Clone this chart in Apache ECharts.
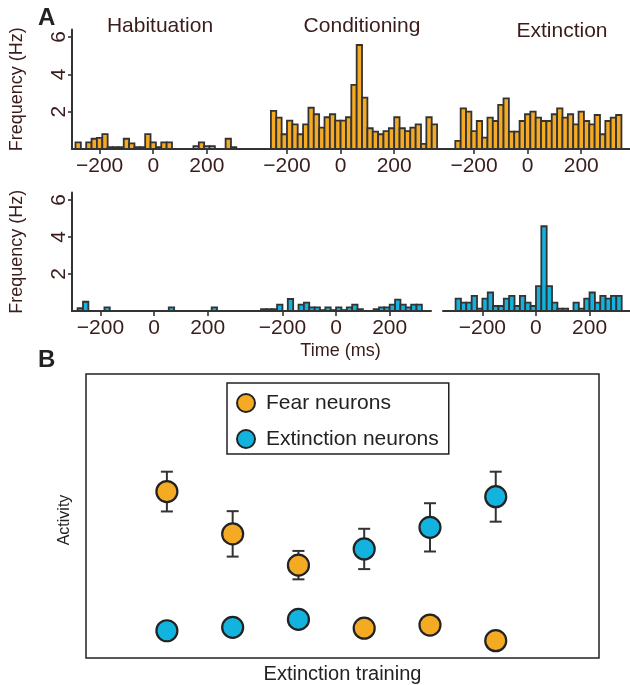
<!DOCTYPE html>
<html>
<head>
<meta charset="utf-8">
<script src="https://cdn.jsdelivr.net/npm/echarts@6/dist/echarts.min.js"></script>
<style>html,body{margin:0;padding:0;background:#fff}#c{width:630px;height:685px}</style>
</head>
<body>
<div id="c"></div>
<script>
// ---------- DATA ----------
const binMs = 20;
const timeTicks = [-200, 0, 200];
const freqTicks = [2, 4, 6];
const panelTitles = ['Habituation', 'Conditioning', 'Extinction'];

// Fear neuron PSTH (top row), Hz per 20 ms bin; bin start times (ms)
const habFearStart = -290;
const habFear = [0.35, 0, 0.35, 0.55, 0.6, 0.8, 0.1, 0.1, 0.1, 0.55, 0.3, 0.1, 0.1, 0.8, 0.35, 0.1, 0.35, 0.35, 0, 0, 0, 0, 0.15, 0.35, 0.15, 0.15, 0, 0, 0.55, 0.1, 0];
const condFearStart = -260;
const condFear = [2.04, 1.68, 0.79, 1.52, 1.32, 0.79, 1.32, 2.21, 1.86, 1.14, 1.70, 1.86, 1.52, 1.52, 1.70, 3.43, 5.57, 2.75, 1.11, 0.93, 0.79, 0.96, 1.11, 1.70, 1.11, 0.96, 1.14, 1.32, 0.27, 1.70, 1.32];
const extFearStart = -270;
const extFear = [0.43, 2.18, 2.0, 0.96, 1.5, 0.61, 1.68, 1.5, 2.36, 2.71, 0.93, 0.93, 1.5, 1.86, 2.0, 1.68, 1.5, 1.5, 1.86, 2.18, 1.68, 1.86, 1.32, 2.0, 1.5, 1.32, 1.82, 0.79, 1.5, 1.68, 1.82];

// Extinction neuron PSTH (bottom row)
const habExtStart = -285;
const habExt = [0.15, 0.5, 0, 0, 0, 0.2, 0, 0, 0, 0, 0, 0, 0, 0, 0, 0, 0, 0.2, 0, 0, 0, 0, 0, 0, 0, 0.2, 0, 0, 0, 0, 0];
const condExtStart = -280;
const condExt = [0.1, 0.1, 0.1, 0.35, 0, 0.65, 0, 0.35, 0.45, 0.2, 0.2, 0.05, 0.2, 0.05, 0.2, 0.05, 0.2, 0.35, 0.1, 0, 0, 0.1, 0.2, 0.2, 0.35, 0.62, 0.35, 0.2, 0.35, 0.35, 0];
const extExtStart = -300;
const extExt = [0.67, 0.45, 0.45, 0.82, 0.13, 0.67, 1.0, 0.27, 0.27, 0.67, 0.82, 0.27, 0.82, 0.45, 0.27, 1.35, 4.58, 1.35, 0.45, 0.13, 0.13, 0, 0.45, 0.13, 0.67, 1.0, 0.45, 0.82, 0.67, 0.82, 0.82];

// Panel B: activity across extinction training (arbitrary units)
const trainingSteps = [1, 2, 3, 4, 5, 6];
const fearActivity = [58.6, 43.7, 32.7, 10.5, 11.6, 6.1];
const fearErr = [7, 8, 5, 0, 0, 0];
const extActivity = [9.6, 10.8, 13.6, 38.4, 46.0, 56.8];
const extErr = [0, 0, 0, 7.1, 8.5, 8.8];

// ---------- STYLE ----------
const ORANGE = '#F5AA24';
const BLUE = '#12B3DF';
const DARK = '#333333';
const TXT = '#3a1c1c';
const FONT = '"Liberation Sans", Arial, sans-serif';

function bins(start, vals) {
  return vals.map((v, i) => [start + i * binMs, start + (i + 1) * binMs, v]);
}
const minusFmt = (v) => String(v).replace('-', '\u2212');

const histRender = (fill) => function (params, api) {
  const p0 = api.coord([api.value(0), api.value(2)]);
  const p1 = api.coord([api.value(1), 0]);
  return {
    type: 'rect',
    shape: { x: p0[0], y: p0[1], width: p1[0] - p0[0], height: p1[1] - p0[1] },
    style: { fill: fill, stroke: DARK, lineWidth: 1.8 }
  };
};

const panels = [
  { grid: { left: 72, width: 178, top: 29.5, height: 119.5 }, min: -303, max: 361, data: bins(habFearStart, habFear), color: ORANGE, yShow: true },
  { grid: { left: 250, width: 197, top: 29.5, height: 119.5 }, min: -338, max: 397, data: bins(condFearStart, condFear), color: ORANGE },
  { grid: { left: 447, width: 183, top: 29.5, height: 119.5 }, min: -301, max: 382, data: bins(extFearStart, extFear), color: ORANGE },
  { grid: { left: 72, width: 178, top: 192.6, height: 118.4 }, min: -306, max: 358, data: bins(habExtStart, habExt), color: BLUE, yShow: true },
  { grid: { left: 250, width: 181, top: 192.6, height: 118.4 }, min: -321, max: 354, data: bins(condExtStart, condExt), color: BLUE, xName: 'Time (ms)' },
  { grid: { left: 443, width: 187, top: 192.6, height: 118.4 }, min: -347, max: 351, data: bins(extExtStart, extExt), color: BLUE }
];

const grid = [], xAxis = [], yAxis = [], series = [];
panels.forEach((p, i) => {
  grid.push(Object.assign({ outerBoundsMode: 'none', containLabel: false }, p.grid));
  xAxis.push({
    type: 'value', gridIndex: i, min: p.min, max: p.max,
    axisLine: { show: true, onZero: false, lineStyle: { color: DARK, width: 2 } },
    axisTick: { show: true, customValues: timeTicks, length: 5, lineStyle: { color: DARK, width: 1.6 } },
    axisLabel: { show: true, customValues: timeTicks, formatter: minusFmt, color: TXT, fontSize: 21, fontFamily: FONT, margin: 7 },
    splitLine: { show: false },
    name: p.xName || '', nameLocation: 'middle', nameGap: 31,
    nameTextStyle: { color: TXT, fontSize: 18, fontFamily: FONT }
  });
  yAxis.push({
    type: 'value', gridIndex: i, min: 0, max: 6.4, show: !!p.yShow,
    axisLine: { show: true, onZero: false, lineStyle: { color: DARK, width: 2 } },
    axisTick: { show: true, customValues: freqTicks, length: 4, lineStyle: { color: DARK, width: 1.6 } },
    axisLabel: { show: true, customValues: freqTicks, rotate: 90, color: TXT, fontSize: 21, fontFamily: FONT, margin: 2 },
    splitLine: { show: false },
    name: 'Frequency (Hz)', nameLocation: 'middle', nameRotate: 90, nameGap: 46,
    nameTextStyle: { color: TXT, fontSize: 18, fontFamily: FONT }
  });
  series.push({
    type: 'custom', xAxisIndex: i, yAxisIndex: i, data: p.data,
    encode: { x: [0, 1], y: 2 }, renderItem: histRender(p.color), clip: false, silent: true
  });
});

// Panel B
const bIdx = panels.length;
grid.push({ left: 86, width: 513, top: 374, height: 284, outerBoundsMode: 'none', containLabel: false, show: true, borderColor: '#222', borderWidth: 1.5, backgroundColor: 'transparent' });
xAxis.push({
  type: 'value', gridIndex: bIdx, min: -0.23, max: 7.57,
  axisLine: { show: false }, axisTick: { show: false }, axisLabel: { show: false }, splitLine: { show: false },
  name: 'Extinction training', nameLocation: 'middle', nameGap: 6,
  nameTextStyle: { color: '#222', fontSize: 20, fontFamily: FONT }
});
yAxis.push({
  type: 'value', gridIndex: bIdx, min: 0, max: 100,
  axisLine: { show: false }, axisTick: { show: false }, axisLabel: { show: false }, splitLine: { show: false }
});

function errRender(params, api) {
  const e = api.value(2);
  if (!e) return null;
  const top = api.coord([api.value(0), api.value(1) + e]);
  const bot = api.coord([api.value(0), api.value(1) - e]);
  const hw = 6;
  const st = { stroke: DARK, lineWidth: 2 };
  return {
    type: 'group', children: [
      { type: 'line', shape: { x1: top[0], y1: top[1], x2: bot[0], y2: bot[1] }, style: st },
      { type: 'line', shape: { x1: top[0] - hw, y1: top[1], x2: top[0] + hw, y2: top[1] }, style: st },
      { type: 'line', shape: { x1: bot[0] - hw, y1: bot[1], x2: bot[0] + hw, y2: bot[1] }, style: st }
    ]
  };
}

series.push({
  type: 'custom', xAxisIndex: bIdx, yAxisIndex: bIdx, z: 3, silent: true,
  data: trainingSteps.map((s, i) => [s, fearActivity[i], fearErr[i]]),
  encode: { x: 0, y: 1 }, renderItem: errRender
});
series.push({
  type: 'custom', xAxisIndex: bIdx, yAxisIndex: bIdx, z: 3, silent: true,
  data: trainingSteps.map((s, i) => [s, extActivity[i], extErr[i]]),
  encode: { x: 0, y: 1 }, renderItem: errRender
});
series.push({
  name: 'Fear neurons', type: 'scatter', xAxisIndex: bIdx, yAxisIndex: bIdx, z: 5,
  symbol: 'circle', symbolSize: 21,
  itemStyle: { color: ORANGE, borderColor: '#222', borderWidth: 2.2, opacity: 1 },
  data: trainingSteps.map((s, i) => [s, fearActivity[i]])
});
series.push({
  name: 'Extinction neurons', type: 'scatter', xAxisIndex: bIdx, yAxisIndex: bIdx, z: 5,
  symbol: 'circle', symbolSize: 21,
  itemStyle: { color: BLUE, borderColor: '#222', borderWidth: 2.2, opacity: 1 },
  data: trainingSteps.map((s, i) => [s, extActivity[i]])
});

const chart = echarts.init(document.getElementById('c'), null, { renderer: 'canvas' });
chart.setOption({
  animation: false,
  backgroundColor: '#fff',
  grid, xAxis, yAxis, series,
  legend: {
    data: ['Fear neurons', 'Extinction neurons'],
    orient: 'vertical', left: 227, top: 383,
    padding: [9, 10, 4, 9], itemGap: 14,
    itemWidth: 18, itemHeight: 18, icon: 'circle',
    borderColor: '#222', borderWidth: 1.5,
    textStyle: { color: '#222', fontSize: 21, fontFamily: FONT, padding: [0, 0, 0, 6], lineHeight: 22 }
  },
  graphic: [
    { type: 'text', left: 38, top: 6, style: { text: 'A', font: 'bold 24px ' + FONT, fill: '#222' } },
    { type: 'text', left: 38, top: 348, style: { text: 'B', font: 'bold 24px ' + FONT, fill: '#222' } },
    { type: 'text', x: 160, y: 26, style: { text: panelTitles[0], font: '21px ' + FONT, fill: TXT, align: 'center', verticalAlign: 'middle' } },
    { type: 'text', x: 362, y: 26, style: { text: panelTitles[1], font: '21px ' + FONT, fill: TXT, align: 'center', verticalAlign: 'middle' } },
    { type: 'text', x: 562, y: 31, style: { text: panelTitles[2], font: '21px ' + FONT, fill: TXT, align: 'center', verticalAlign: 'middle' } },
    { type: 'text', x: 65, y: 520, rotation: Math.PI / 2, style: { text: 'Activity', font: '16px ' + FONT, fill: '#222', align: 'center', verticalAlign: 'middle' } }
  ]
});
</script>
</body>
</html>
